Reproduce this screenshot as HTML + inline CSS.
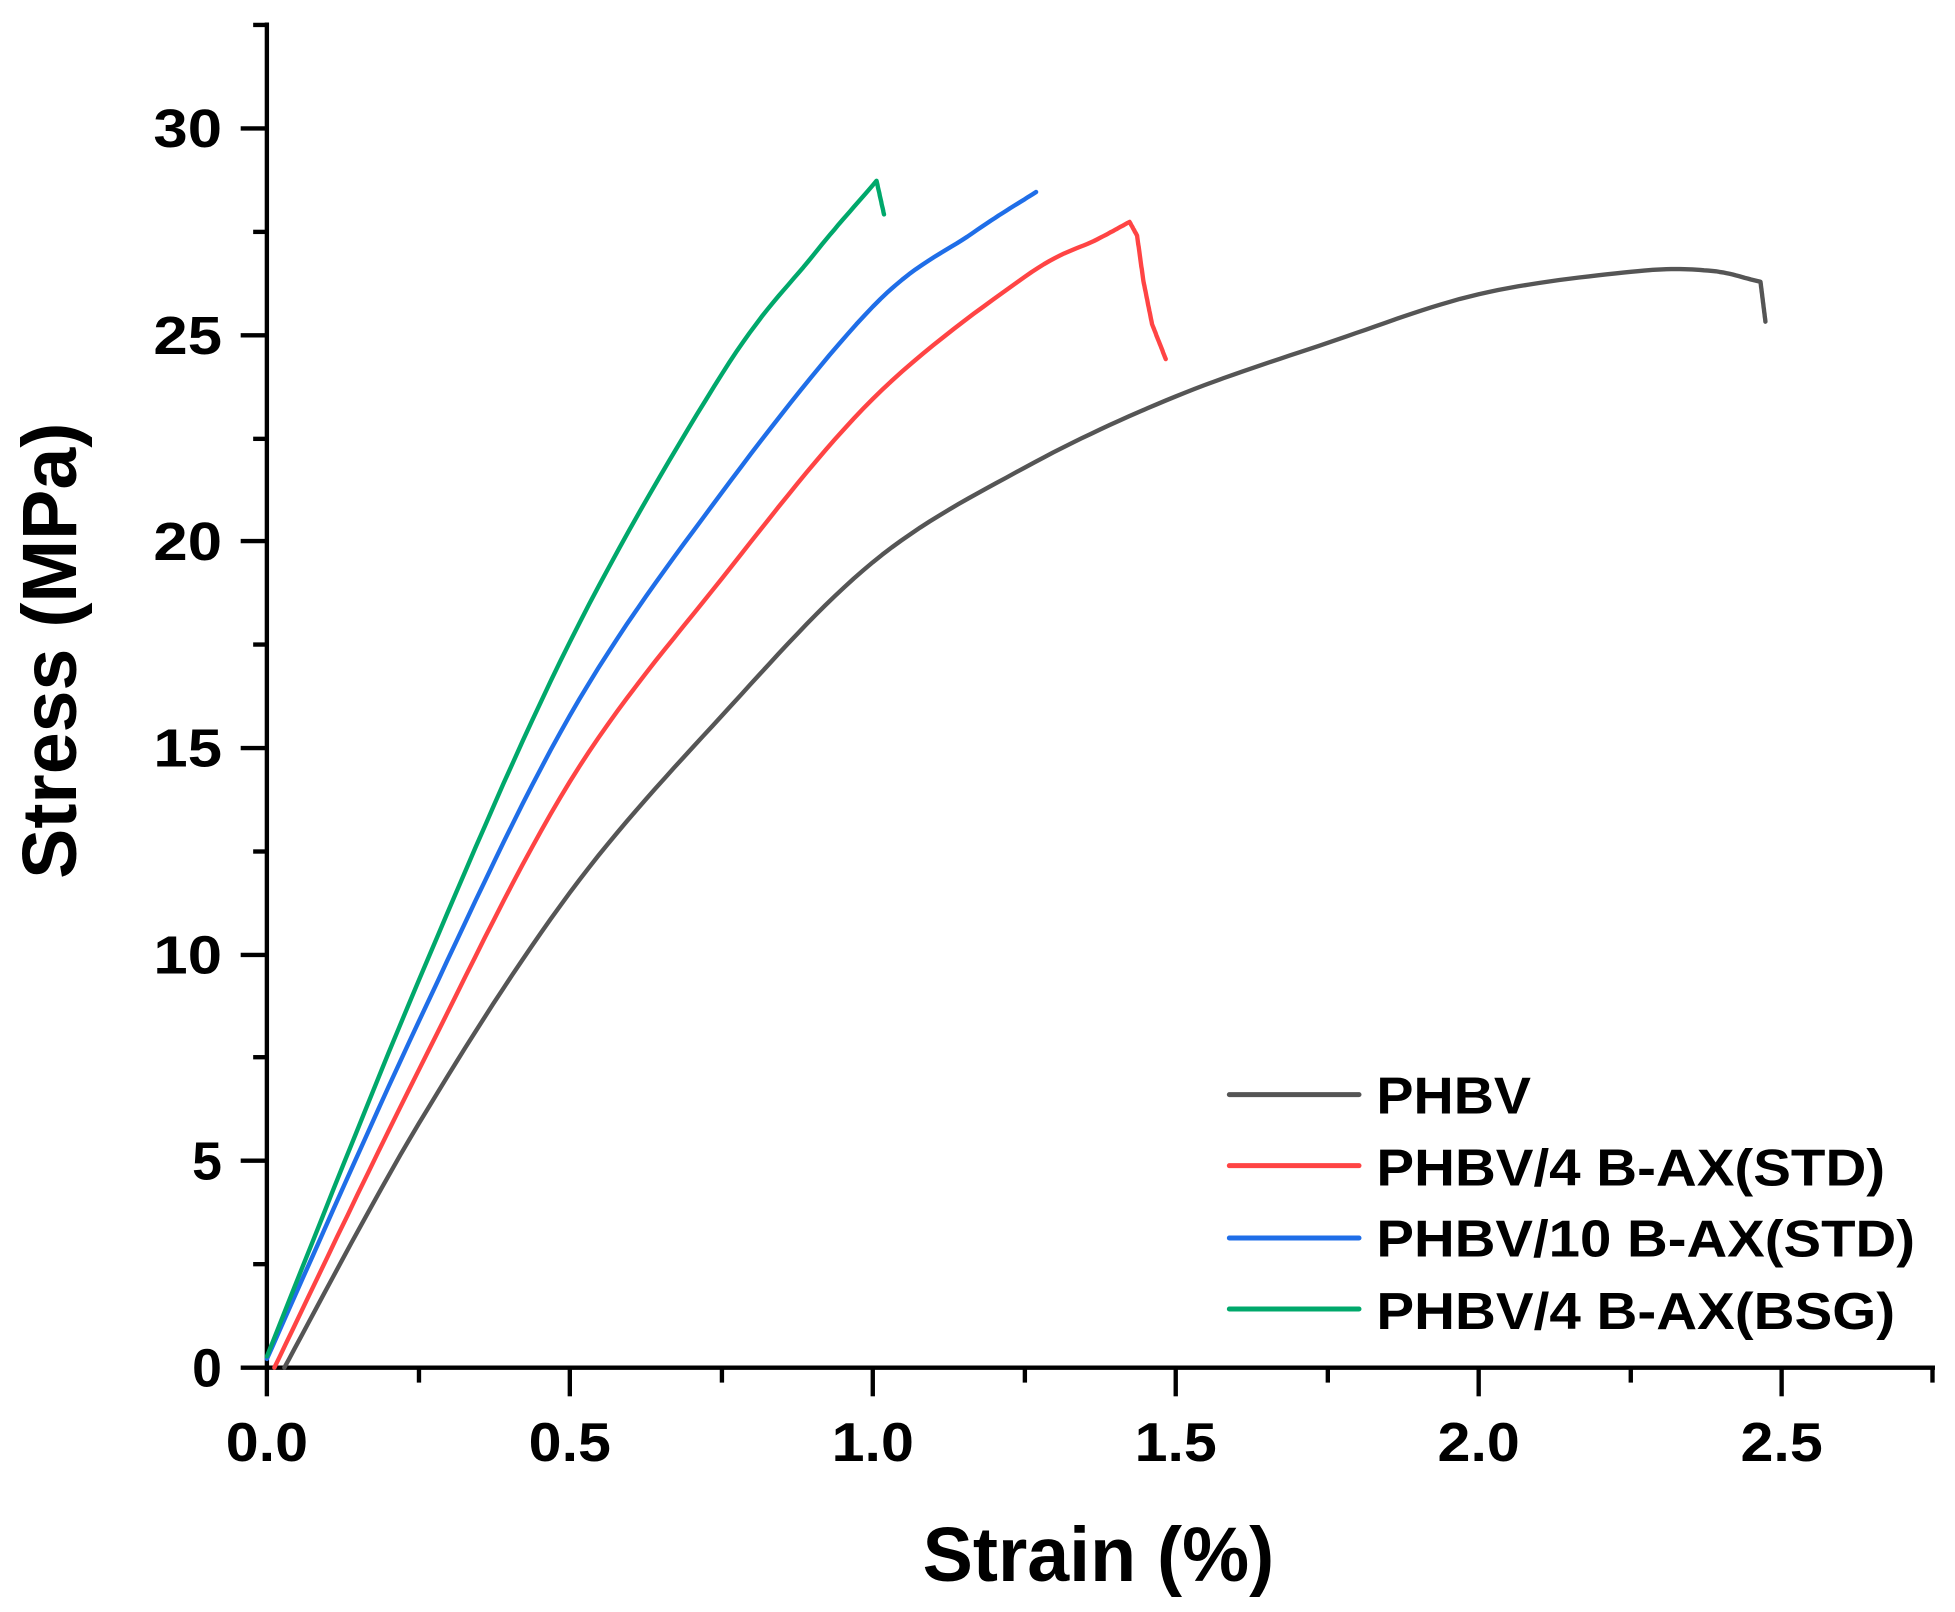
<!DOCTYPE html>
<html><head><meta charset="utf-8"><style>html,body{margin:0;padding:0;background:#fff}svg{display:block}</style></head>
<body>
<svg width="1955" height="1612" viewBox="0 0 1568 1293" xmlns="http://www.w3.org/2000/svg" font-family="Liberation Sans, sans-serif" font-weight="bold">
<g stroke="#000" stroke-width="3.5" fill="none">
<line x1="214" y1="18" x2="214" y2="1099"/>
<line x1="193" y1="1097" x2="1552" y2="1097"/>
<line x1="193" y1="103" x2="214" y2="103"/>
<line x1="193" y1="269" x2="214" y2="269"/>
<line x1="193" y1="434" x2="214" y2="434"/>
<line x1="193" y1="600" x2="214" y2="600"/>
<line x1="193" y1="766" x2="214" y2="766"/>
<line x1="193" y1="931" x2="214" y2="931"/>
<line x1="203" y1="20" x2="214" y2="20"/>
<line x1="203" y1="186" x2="214" y2="186"/>
<line x1="203" y1="352" x2="214" y2="352"/>
<line x1="203" y1="517" x2="214" y2="517"/>
<line x1="203" y1="683" x2="214" y2="683"/>
<line x1="203" y1="848" x2="214" y2="848"/>
<line x1="203" y1="1014" x2="214" y2="1014"/>
<line x1="214" y1="1097" x2="214" y2="1120"/>
<line x1="457" y1="1097" x2="457" y2="1120"/>
<line x1="700" y1="1097" x2="700" y2="1120"/>
<line x1="943" y1="1097" x2="943" y2="1120"/>
<line x1="1186" y1="1097" x2="1186" y2="1120"/>
<line x1="1429" y1="1097" x2="1429" y2="1120"/>
<line x1="336" y1="1097" x2="336" y2="1109"/>
<line x1="579" y1="1097" x2="579" y2="1109"/>
<line x1="822" y1="1097" x2="822" y2="1109"/>
<line x1="1065" y1="1097" x2="1065" y2="1109"/>
<line x1="1308" y1="1097" x2="1308" y2="1109"/>
<line x1="1550" y1="1097" x2="1550" y2="1109"/>
</g>
<g font-size="43" text-anchor="end" fill="#000">
<text x="178" y="118" textLength="55" lengthAdjust="spacingAndGlyphs">30</text>
<text x="178" y="284" textLength="55" lengthAdjust="spacingAndGlyphs">25</text>
<text x="178" y="449" textLength="55" lengthAdjust="spacingAndGlyphs">20</text>
<text x="178" y="615" textLength="55" lengthAdjust="spacingAndGlyphs">15</text>
<text x="178" y="781" textLength="55" lengthAdjust="spacingAndGlyphs">10</text>
<text x="178" y="946">5</text>
<text x="178" y="1112">0</text>
</g>
<g font-size="44" text-anchor="middle" fill="#000">
<text x="214" y="1172" textLength="66" lengthAdjust="spacingAndGlyphs">0.0</text>
<text x="457" y="1172" textLength="66" lengthAdjust="spacingAndGlyphs">0.5</text>
<text x="700" y="1172" textLength="66" lengthAdjust="spacingAndGlyphs">1.0</text>
<text x="943" y="1172" textLength="66" lengthAdjust="spacingAndGlyphs">1.5</text>
<text x="1186" y="1172" textLength="66" lengthAdjust="spacingAndGlyphs">2.0</text>
<text x="1429" y="1172" textLength="66" lengthAdjust="spacingAndGlyphs">2.5</text>
</g>
<text x="881" y="1268" font-size="62" text-anchor="middle" textLength="282" lengthAdjust="spacingAndGlyphs">Strain (%)</text>
<text transform="translate(61,522) rotate(-90)" font-size="62" text-anchor="middle" textLength="366" lengthAdjust="spacingAndGlyphs">Stress (MPa)</text>
<g fill="none" stroke-width="3.5" stroke-linejoin="round" stroke-linecap="round">
<polyline class="s" stroke="#555" points="228,1097 336,901 457,716 579,574 700,451 822,375 943,318 1065,275 1186,236 1308,218 1370,217 1412,226 1416,258"/>
<polyline class="s" stroke="#f44" points="220,1097 336,858 457,627 579,464 700,320 822,222 880,192 906,178 912,189 917,225 924,260 935,288"/>
<polyline class="s" stroke="#1f6ee8" points="214,1090 336,819 457,574 579,395 700,246 780,187 831,154"/>
<polyline class="s" stroke="#00a86b" points="214,1088 336,786 457,515 579,300 652,205 703,145 709,172"/>
</g>
<g stroke-width="4" stroke-linecap="round">
<line x1="986" y1="878" x2="1090" y2="878" stroke="#555"/>
<line x1="986" y1="935" x2="1090" y2="935" stroke="#f44"/>
<line x1="986" y1="993" x2="1090" y2="993" stroke="#1f6ee8"/>
<line x1="986" y1="1050" x2="1090" y2="1050" stroke="#00a86b"/>
</g>
<g font-size="42" fill="#000">
<text x="1104" y="893" textLength="124" lengthAdjust="spacingAndGlyphs">PHBV</text>
<text x="1104" y="951" textLength="408" lengthAdjust="spacingAndGlyphs">PHBV/4 B-AX(STD)</text>
<text x="1104" y="1008" textLength="432" lengthAdjust="spacingAndGlyphs">PHBV/10 B-AX(STD)</text>
<text x="1104" y="1066" textLength="416" lengthAdjust="spacingAndGlyphs">PHBV/4 B-AX(BSG)</text>
</g>
</svg>
<script>
document.querySelectorAll('polyline.s').forEach(function(pl){
  var p=pl.getAttribute('points').trim().split(/\s+/).map(function(s){return s.split(',').map(Number);});
  var out=[];
  for(var i=0;i<p.length-1;i++){
    var p0=p[Math.max(i-1,0)],p1=p[i],p2=p[i+1],p3=p[Math.min(i+2,p.length-1)];
    var sharp=(p2[0]-p1[0])<12;
    if(!sharp && (p3[0]-p2[0])<12) p3=[2*p2[0]-p1[0],2*p2[1]-p1[1]];
    if(i>0 && (p1[0]-p0[0])<12) p0=[2*p1[0]-p2[0],2*p1[1]-p2[1]];
    for(var k=0;k<16;k++){
      var t=k/16,t2=t*t,t3=t2*t;
      if(sharp){out.push([p1[0]+(p2[0]-p1[0])*t,p1[1]+(p2[1]-p1[1])*t]);continue;}
      var f=function(a,b,c,d){return 0.5*((2*b)+(-a+c)*t+(2*a-5*b+4*c-d)*t2+(-a+3*b-3*c+d)*t3);};
      out.push([f(p0[0],p1[0],p2[0],p3[0]),f(p0[1],p1[1],p2[1],p3[1])]);
    }
  }
  out.push(p[p.length-1]);
  pl.setAttribute('points',out.map(function(q){return q[0].toFixed(1)+','+q[1].toFixed(1);}).join(' '));
});
</script>
</body></html>
